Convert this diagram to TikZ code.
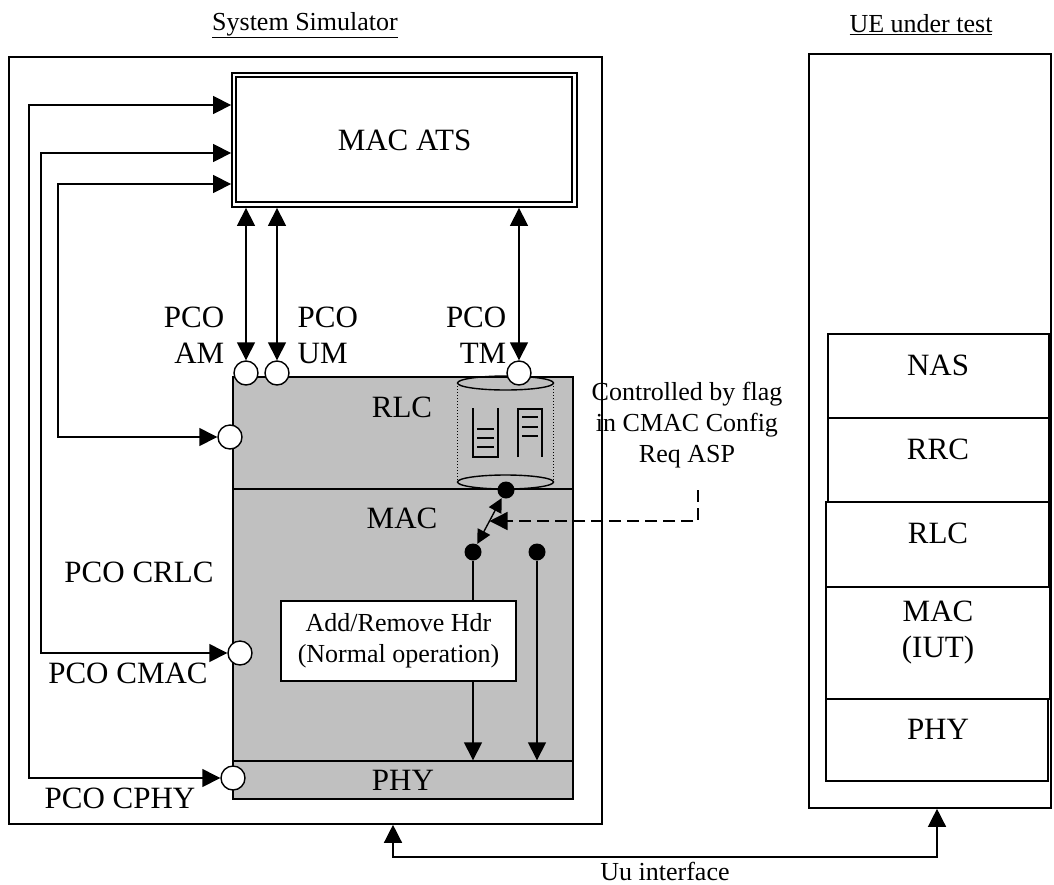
\documentclass[tikz,border=0pt]{standalone}
\usepackage{fontspec}
\setmainfont{Liberation Serif}
\usetikzlibrary{arrows.meta, calc}
\definecolor{simgrey}{RGB}{192,192,192}

\begin{document}
\begin{tikzpicture}[x=1pt, y=-1pt, line width=1.4pt]

\tikzstyle{frame} = [rectangle, draw=black, line width=1.6pt, inner sep=0pt]
\tikzstyle{layer} = [rectangle, draw=black, fill=simgrey, inner sep=0pt]
\tikzstyle{uelayer} = [rectangle, draw=black, fill=white, inner sep=0pt]
\tikzstyle{pco} = [circle, draw=black, fill=white, minimum size=24pt, inner sep=0pt]
\tikzstyle{sdot} = [circle, fill=black, minimum size=17pt, inner sep=0pt]
\tikzstyle{arrow} = [-{Triangle[length=18pt,width=18pt]}]
\tikzstyle{dblarrow} = [{Triangle[length=18pt,width=18pt]}-{Triangle[length=18pt,width=18pt]}]
\tikzstyle{swarrow} = [{Triangle[length=14pt,width=14pt]}-{Triangle[length=14pt,width=14pt]}]
\tikzstyle{big} = [font=\fontsize{31}{36}\selectfont]
\tikzstyle{small} = [font=\fontsize{26}{31}\selectfont]

\useasboundingbox (0,0) rectangle (1054,884);

% outer frames
\node (sim) [frame, minimum width=593pt, minimum height=767pt] at (305.5,440.5) {};
\node (ue) [frame, minimum width=242pt, minimum height=754pt] at (930,431) {};
\node (simtitle) [small] at (305,25) {\underline{System Simulator}};
\node (uetitle) [small] at (921,25) {\underline{UE under test}};

\node (ats) [frame, big, minimum width=345pt, minimum height=134pt, line width=1.8pt] at (404.5,140) {MAC ATS};
\draw ($(ats.north west)+(5,5)$) rectangle ($(ats.south east)+(-6,-6)$);

% simulator stack
\node (rlc) [layer, minimum width=340pt, minimum height=112pt] at (403,433) {};
\node (mac) [layer, minimum width=340pt, minimum height=272pt] at (403,625) {};
\node (phy) [layer, big, minimum width=340pt, minimum height=38pt] at (403,780) {PHY};
\node (rlclbl) [big] at (402,407) {RLC};
\node (maclbl) [big] at (402,518) {MAC};

% TM buffer
\draw (505.5,383) ellipse [x radius=48pt, y radius=7pt];
\draw (505.5,482) ellipse [x radius=48pt, y radius=7pt];
\draw [dotted, line width=1pt] (457.5,383) -- (457.5,482) (553.5,383) -- (553.5,482);
\draw [line width=1.1pt] (473,408) -- (473,457) -- (498,457) -- (498,408);
\foreach \y in {429,438,447} \draw [line width=1.1pt] (477,\y) -- (494,\y);
\draw [line width=1.1pt] (518,457) -- (518,409) -- (542,409) -- (542,457);
\foreach \y in {417,427,436} \draw [line width=1.1pt] (522,\y) -- (538,\y);

\node (add) [uelayer, small, align=center, minimum width=235pt, minimum height=80pt] at (398.5,641) {Add/Remove Hdr\\(Normal operation)};

% switch
\node (sw) [sdot] at (506,490) {};
\node (swa) [sdot] at (473,552) {};
\node (swb) [sdot] at (537,552) {};
\draw [swarrow] (sw) -- (swa);
\draw (swa) -- (add.north -| swa);
\draw [arrow] (add.south -| swa) -- (phy.north -| swa);
\draw [arrow] (swb) -- (phy.north -| swb);

\node (ctltxt) [small, align=center] at (687,425) {Controlled by flag\\in CMAC Config\\Req ASP};
\coordinate (ctl) at (698,490);
\coordinate (swmid) at ($(sw)!0.5!(swa)$);
\draw [arrow, dash pattern=on 12pt off 6pt] (ctl) |- (swmid);

% PCOs
\node (pam) [pco] at (246,373) {};
\node (pum) [pco] at (277,373) {};
\node (ptm) [pco] at (519,373) {};
\node (pcrlc) [pco] at (230,437) {};
\node (pcmac) [pco] at (240,653) {};
\node (pcphy) [pco] at (233,778) {};

\draw [dblarrow] (ats.south -| pam) -- (pam);
\draw [dblarrow] (ats.south -| pum) -- (pum);
\draw [dblarrow] (ats.south -| ptm) -- (ptm);
\coordinate (cphy) at (29,105);
\coordinate (cmac) at (41,153);
\coordinate (crlc) at (58,184);
\draw [dblarrow] (ats.west |- cphy) -- (cphy) |- (pcphy);
\draw [dblarrow] (ats.west |- cmac) -- (cmac) |- (pcmac);
\draw [dblarrow] (ats.west |- crlc) -- (crlc) |- (pcrlc);

\node (lam) [big, align=right, anchor=east, inner sep=0pt] at (225,335) {PCO\\AM};
\node (lum) [big, align=left, anchor=west, inner sep=0pt] at (297,335) {PCO\\UM};
\node (ltm) [big, align=right, anchor=east, inner sep=0pt] at (507,335) {PCO\\TM};
\node (lcrlc) [big] at (139,572) {PCO CRLC};
\node (lcmac) [big] at (128,673) {PCO CMAC};
\node (lcphy) [big] at (120,798) {PCO CPHY};

% UE stack
\node (nas) [uelayer, minimum width=221pt, minimum height=84pt] at (938.5,376) {};
\node (rrc) [uelayer, minimum width=221pt, minimum height=84pt] at (938.5,460) {};
\node (uerlc) [uelayer, minimum width=223pt, minimum height=85pt] at (937.5,544.5) {};
\node (uemac) [uelayer, minimum width=224pt, minimum height=112pt] at (938,643) {};
\node (uephy) [uelayer, minimum width=222pt, minimum height=82pt] at (937,740) {};
\node (naslbl) [big] at (938,365) {NAS};
\node (rrclbl) [big] at (938,449) {RRC};
\node (uerlclbl) [big] at (938,533) {RLC};
\node (uemaclbl) [big, align=center] at (938,633) {MAC\\(IUT)};
\node (uephylbl) [big] at (938,729) {PHY};

% air interface
\coordinate (uul) at (393,857);
\coordinate (uur) at (937,857);
\draw [dblarrow] (sim.south -| uul) -- (uul) -- (uur) -- (ue.south -| uur);
\node (uulbl) [small] at (665,871) {Uu interface};

\end{tikzpicture}
\end{document}
